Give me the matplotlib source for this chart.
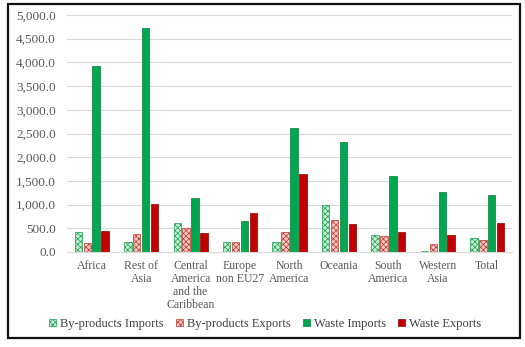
import matplotlib
matplotlib.use("Agg")
import matplotlib.pyplot as plt
import numpy as np
from matplotlib.patches import Rectangle

plt.rcParams["font.family"] = ["Liberation Serif", "DejaVu Serif"]
plt.rcParams["hatch.linewidth"] = 0.5

categories = ["Africa", "Rest of\nAsia", "Central\nAmerica\nand the\nCaribbean",
              "Europe\nnon EU27", "North\nAmerica", "Oceania", "South\nAmerica",
              "Western\nAsia", "Total"]
byp_imports = [415, 211, 605, 205, 205, 985, 365, 15, 289]
byp_exports = [183, 373, 506, 217, 415, 675, 331, 162, 247]
waste_imports = [3924, 4732, 1133, 660, 2616, 2314, 1597, 1266, 1209]
waste_exports = [437, 1006, 394, 816, 1646, 597, 422, 352, 618]

fig = plt.figure(figsize=(5.25, 3.47), dpi=100)
ax = fig.add_axes([67 / 525, 1 - 252 / 347, 445 / 525, 237 / 347])

x = np.arange(len(categories))
w = 0.15
step = 0.18
series = [
    (byp_imports, "By-products Imports", "#c8ecd4", "#1aa050", "xxxxxx"),
    (byp_exports, "By-products Exports", "#f4c6c6", "#c0392b", "xxxxxx"),
    (waste_imports, "Waste Imports", "#00a650", "#0b7a3a", None),
    (waste_exports, "Waste Exports", "#c00000", "#8b0000", None),
]
for i, (vals, label, face, edge, hatch) in enumerate(series):
    ax.bar(x + (i - 1.5) * step, vals, w, color=face, edgecolor=edge,
           hatch=hatch, linewidth=0.5, label=label)

ax.set_xlim(-0.5, len(categories) - 0.5)
ax.set_ylim(0, 5000)
ax.set_yticks(np.arange(0, 5001, 500))
ax.set_yticklabels([f"{v:,.1f}" for v in np.arange(0, 5001, 500)], fontsize=9.5)
ax.set_xticks(x)
ax.set_xticklabels(categories, fontsize=8.5, linespacing=1.1)
ax.tick_params(length=0, pad=6, colors="#595959")
ax.tick_params(axis="y", pad=8)
ax.grid(axis="y", color="#d9d9d9", linewidth=0.8)
ax.set_axisbelow(True)
for s in ["top", "right", "left"]:
    ax.spines[s].set_visible(False)
ax.spines["bottom"].set_color("#d9d9d9")

leg = ax.legend(loc="center", bbox_to_anchor=(0.505, 1 - 324 / 347),
                bbox_transform=fig.transFigure, ncol=4, frameon=False, fontsize=9,
                handlelength=0.55, handleheight=0.55, handletextpad=0.3,
                columnspacing=1.0)
for t in leg.get_texts():
    t.set_color("#404040")

fig.patches.append(Rectangle((8 / 525, 1 - 338 / 347), 512 / 525, 334 / 347,
                             transform=fig.transFigure, fill=False,
                             edgecolor="#111111", linewidth=1.6))

plt.savefig("out.png", dpi=100)
plt.close()
